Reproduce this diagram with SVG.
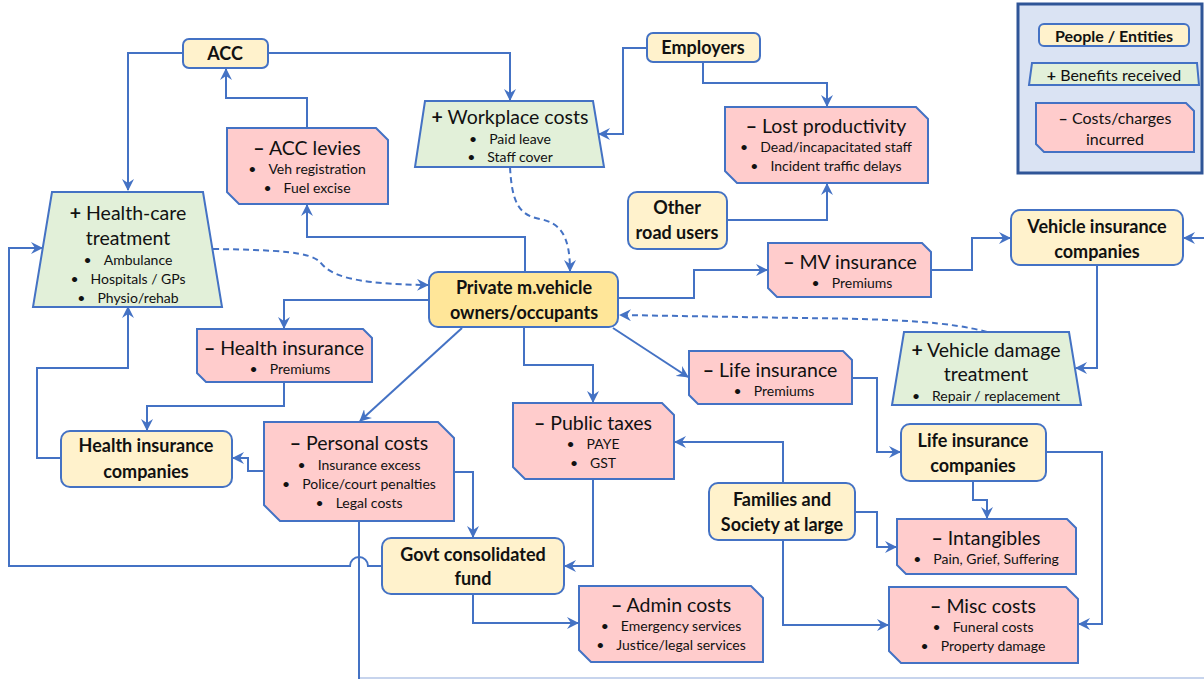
<svg xmlns="http://www.w3.org/2000/svg" width="1204" height="679" viewBox="0 0 1204 679">
<defs>
<style>
.ent{fill:#FFF2CC;stroke:#4472C4;stroke-width:2}
.pmv{fill:#FFE699;stroke:#4472C4;stroke-width:2}
.cost{fill:#FFCCCC;stroke:#4472C4;stroke-width:2}
.ben{fill:#E2F0D9;stroke:#4472C4;stroke-width:2}
text{font-family:Lato,"Liberation Sans",sans-serif;fill:#111;text-anchor:middle}
.b{font-weight:bold;font-size:18px}
.t{font-size:19.5px}
.s{font-size:14px}
.l{font-size:16px}
.sym{font-weight:bold}
.c{fill:none;stroke:#4472C4;stroke-width:2;marker-end:url(#ah)}
.d{stroke-dasharray:6,4}
</style>
<marker id="ah" viewBox="0 0 12 12" refX="11" refY="6" markerWidth="12" markerHeight="12" markerUnits="userSpaceOnUse" orient="auto">
<path d="M0,0 L12,6 L0,12 L4,6 z" fill="#4472C4"/>
</marker>
</defs>
<rect width="1204" height="679" fill="#fff"/>

<g id="connectors">
<path class="c" d="M183,53 H128 V190"/>
<path class="c" d="M268,53 H510 V100"/>
<path class="c" d="M307,128 V98 H226 V69"/>
<path class="c" d="M525,272 V237 H307 V205"/>
<path class="c" d="M647,48 H623 V134 H599"/>
<path class="c" d="M703,62 V83 H827 V106"/>
<path class="c" d="M727,220 H827 V184"/>
<path class="c d" d="M510,167 C512,205 520,215 540,219 C560,223 570,235 570,271"/>
<path class="c d" d="M213,249 C280,250 310,252 320,262 C330,275 350,284 428,285"/>
<path class="c" d="M618,298 H694 V270 H767"/>
<path class="c" d="M931,270 H972 V238 H1010"/>
<path class="c" d="M1204,238 H1184"/>
<path class="c" d="M1097,265 V368 H1076"/>
<path class="c d" d="M987,332 C950,322 900,319 800,318 L620,315"/>
<path class="c" d="M429,300 H284 V328"/>
<path class="c" d="M284,382 V406 H147 V430"/>
<path class="c" d="M61,458 H37 V368 H128 V307"/>
<path class="c" d="M462,328 L360,421"/>
<path class="c" d="M264,471 H248 V458 H233"/>
<path class="c" d="M454,472 H473 V537"/>
<path class="c" d="M524,327 V365 H593 V402"/>
<path class="c" d="M593,479 V566 H565"/>
<path class="c" d="M613,328 L688,377"/>
<path class="c" d="M852,378 H877 V452 H900"/>
<path class="c" d="M783,483 V442 H675"/>
<path class="c" d="M855,512 H877 V547 H896"/>
<path class="c" d="M783,540 V625 H888"/>
<path class="c" d="M973,481 V500 H987 V518"/>
<path class="c" d="M1046,452 H1102 V624 H1079"/>
<path class="c" d="M473,594 V623 H578"/>
<path class="c" d="M382,566 H368 A9,9 0 0 0 350,566 H9 V248 H42"/>
<path d="M359,521 V679" fill="none" stroke="#4472C4" stroke-width="2"/>
<path d="M359,678 H1204" fill="none" stroke="#4472C4" stroke-width="2" opacity="0.3"/>
</g>

<g id="legend">
<rect x="1018" y="4" width="184" height="169" fill="#DAE3F3" stroke="#2F5597" stroke-width="3"/>
<rect class="ent" x="1039" y="24" width="150" height="22" rx="5"/>
<text class="l" style="font-weight:bold" x="1114" y="41.5">People / Entities</text>
<polygon class="ben" points="1032,63 1197,63 1199,85 1029,85"/>
<text class="l" x="1114" y="80.5"><tspan class="sym">+</tspan> Benefits received</text>
<polygon class="cost" points="1036,103 1186,103 1194,111 1194,152 1044,152 1036,144"/>
<text class="l" x="1115" y="124"><tspan class="sym">–</tspan> Costs/charges</text>
<text class="l" x="1115" y="145">incurred</text>
</g>

<g id="acc">
<rect class="ent" x="183" y="39" width="85" height="29" rx="6"/>
<text class="b" x="225" y="60">ACC</text>
</g>
<g id="employers">
<rect class="ent" x="647" y="33" width="113" height="29" rx="6"/>
<text class="b" x="703" y="54">Employers</text>
</g>
<g id="other-road-users">
<rect class="ent" x="628" y="192" width="99" height="57" rx="9"/>
<text class="b" x="677" y="214">Other</text>
<text class="b" x="677" y="239">road users</text>
</g>
<g id="vehicle-insurance-companies">
<rect class="ent" x="1011" y="210" width="172" height="55" rx="9"/>
<text class="b" x="1097" y="233">Vehicle insurance</text>
<text class="b" x="1097" y="258">companies</text>
</g>
<g id="private-owners">
<rect class="pmv" x="429" y="272" width="189" height="55" rx="9"/>
<text class="b" x="524" y="294">Private m.vehicle</text>
<text class="b" x="524" y="319">owners/occupants</text>
</g>
<g id="health-insurance-companies">
<rect class="ent" x="61" y="431" width="171" height="56" rx="9"/>
<text class="b" x="146" y="452">Health insurance</text>
<text class="b" x="146" y="478">companies</text>
</g>
<g id="life-insurance-companies">
<rect class="ent" x="901" y="424" width="145" height="57" rx="9"/>
<text class="b" x="973" y="447">Life insurance</text>
<text class="b" x="973" y="472">companies</text>
</g>
<g id="families-society">
<rect class="ent" x="709" y="483" width="146" height="57" rx="9"/>
<text class="b" x="782" y="506">Families and</text>
<text class="b" x="782" y="531">Society at large</text>
</g>
<g id="govt-fund">
<rect class="ent" x="382" y="538" width="182" height="56" rx="9"/>
<text class="b" x="473" y="561">Govt consolidated</text>
<text class="b" x="473" y="585">fund</text>
</g>

<g id="acc-levies">
<polygon class="cost" points="227,128 376,128 388,140 388,204 239,204 227,192"/>
<text class="t" x="307" y="154.5"><tspan class="sym">–</tspan> ACC levies</text>
<text class="s" x="307" y="174"><tspan>•</tspan><tspan dx="12">Veh registration</tspan></text>
<text class="s" x="307" y="193"><tspan>•</tspan><tspan dx="12">Fuel excise</tspan></text>
</g>
<g id="lost-productivity">
<polygon class="cost" points="725,107 916,107 928,119 928,183 737,183 725,171"/>
<text class="t" x="826" y="132.5"><tspan class="sym">–</tspan> Lost productivity</text>
<text class="s" x="826" y="152"><tspan>•</tspan><tspan dx="12">Dead/incapacitated staff</tspan></text>
<text class="s" x="826" y="171"><tspan>•</tspan><tspan dx="12">Incident traffic delays</tspan></text>
</g>
<g id="mv-insurance">
<polygon class="cost" points="768,243 922,243 931,252 931,297 777,297 768,288"/>
<text class="t" x="850" y="268.5"><tspan class="sym">–</tspan> MV insurance</text>
<text class="s" x="852" y="288"><tspan>•</tspan><tspan dx="12">Premiums</tspan></text>
</g>
<g id="health-insurance">
<polygon class="cost" points="197,329 363,329 372,338 372,382 206,382 197,373"/>
<text class="t" x="284" y="354.5"><tspan class="sym">–</tspan> Health insurance</text>
<text class="s" x="290" y="374"><tspan>•</tspan><tspan dx="12">Premiums</tspan></text>
</g>
<g id="life-insurance">
<polygon class="cost" points="689,351 843,351 852,360 852,404 698,404 689,395"/>
<text class="t" x="770" y="376.5"><tspan class="sym">–</tspan> Life insurance</text>
<text class="s" x="774" y="396"><tspan>•</tspan><tspan dx="12">Premiums</tspan></text>
</g>
<g id="public-taxes">
<polygon class="cost" points="513,403 662,403 674,415 674,479 525,479 513,467"/>
<text class="t" x="593" y="429.5"><tspan class="sym">–</tspan> Public taxes</text>
<text class="s" x="593" y="449"><tspan>•</tspan><tspan dx="12">PAYE</tspan></text>
<text class="s" x="593" y="468"><tspan>•</tspan><tspan dx="12">GST</tspan></text>
</g>
<g id="personal-costs">
<polygon class="cost" points="264,422 438,422 454,438 454,521 280,521 264,505"/>
<text class="t" x="359" y="449.5"><tspan class="sym">–</tspan> Personal costs</text>
<text class="s" x="359" y="470"><tspan>•</tspan><tspan dx="12">Insurance excess</tspan></text>
<text class="s" x="359" y="489"><tspan>•</tspan><tspan dx="12">Police/court penalties</tspan></text>
<text class="s" x="359" y="508"><tspan>•</tspan><tspan dx="12">Legal costs</tspan></text>
</g>
<g id="admin-costs">
<polygon class="cost" points="579,586 751,586 763,598 763,662 591,662 579,650"/>
<text class="t" x="671" y="611.5"><tspan class="sym">–</tspan> Admin costs</text>
<text class="s" x="671" y="631"><tspan>•</tspan><tspan dx="12">Emergency services</tspan></text>
<text class="s" x="671" y="650"><tspan>•</tspan><tspan dx="12">Justice/legal services</tspan></text>
</g>
<g id="intangibles">
<polygon class="cost" points="897,519 1067,519 1076,528 1076,574 906,574 897,565"/>
<text class="t" x="986" y="544.5"><tspan class="sym">–</tspan> Intangibles</text>
<text class="s" x="986" y="564"><tspan>•</tspan><tspan dx="12">Pain, Grief, Suffering</tspan></text>
</g>
<g id="misc-costs">
<polygon class="cost" points="889,587 1066,587 1078,599 1078,663 901,663 889,651"/>
<text class="t" x="983" y="612.5"><tspan class="sym">–</tspan> Misc costs</text>
<text class="s" x="983" y="632"><tspan>•</tspan><tspan dx="12">Funeral costs</tspan></text>
<text class="s" x="983" y="651"><tspan>•</tspan><tspan dx="12">Property damage</tspan></text>
</g>

<g id="health-care-treatment">
<polygon class="ben" points="52,192 203,192 222,307 33,307"/>
<text class="t" x="128" y="219.5"><tspan class="sym">+</tspan> Health-care</text>
<text class="t" x="128" y="244.5">treatment</text>
<text class="s" x="128" y="265"><tspan>•</tspan><tspan dx="12">Ambulance</tspan></text>
<text class="s" x="128" y="284"><tspan>•</tspan><tspan dx="12">Hospitals / GPs</tspan></text>
<text class="s" x="128" y="303"><tspan>•</tspan><tspan dx="12">Physio/rehab</tspan></text>
</g>
<g id="workplace-costs">
<polygon class="ben" points="425,101 593,101 604,167 415,167"/>
<text class="t" x="510" y="123.5"><tspan class="sym">+</tspan> Workplace costs</text>
<text class="s" x="510" y="144"><tspan>•</tspan><tspan dx="12">Paid leave</tspan></text>
<text class="s" x="510" y="162"><tspan>•</tspan><tspan dx="12">Staff cover</tspan></text>
</g>
<g id="vehicle-damage-treatment">
<polygon class="ben" points="904,332 1069,332 1081,405 892,405"/>
<text class="t" x="986" y="356.5"><tspan class="sym">+</tspan> Vehicle damage</text>
<text class="t" x="986" y="380.5">treatment</text>
<text class="s" x="986" y="401"><tspan>•</tspan><tspan dx="12">Repair / replacement</tspan></text>
</g>
</svg>
